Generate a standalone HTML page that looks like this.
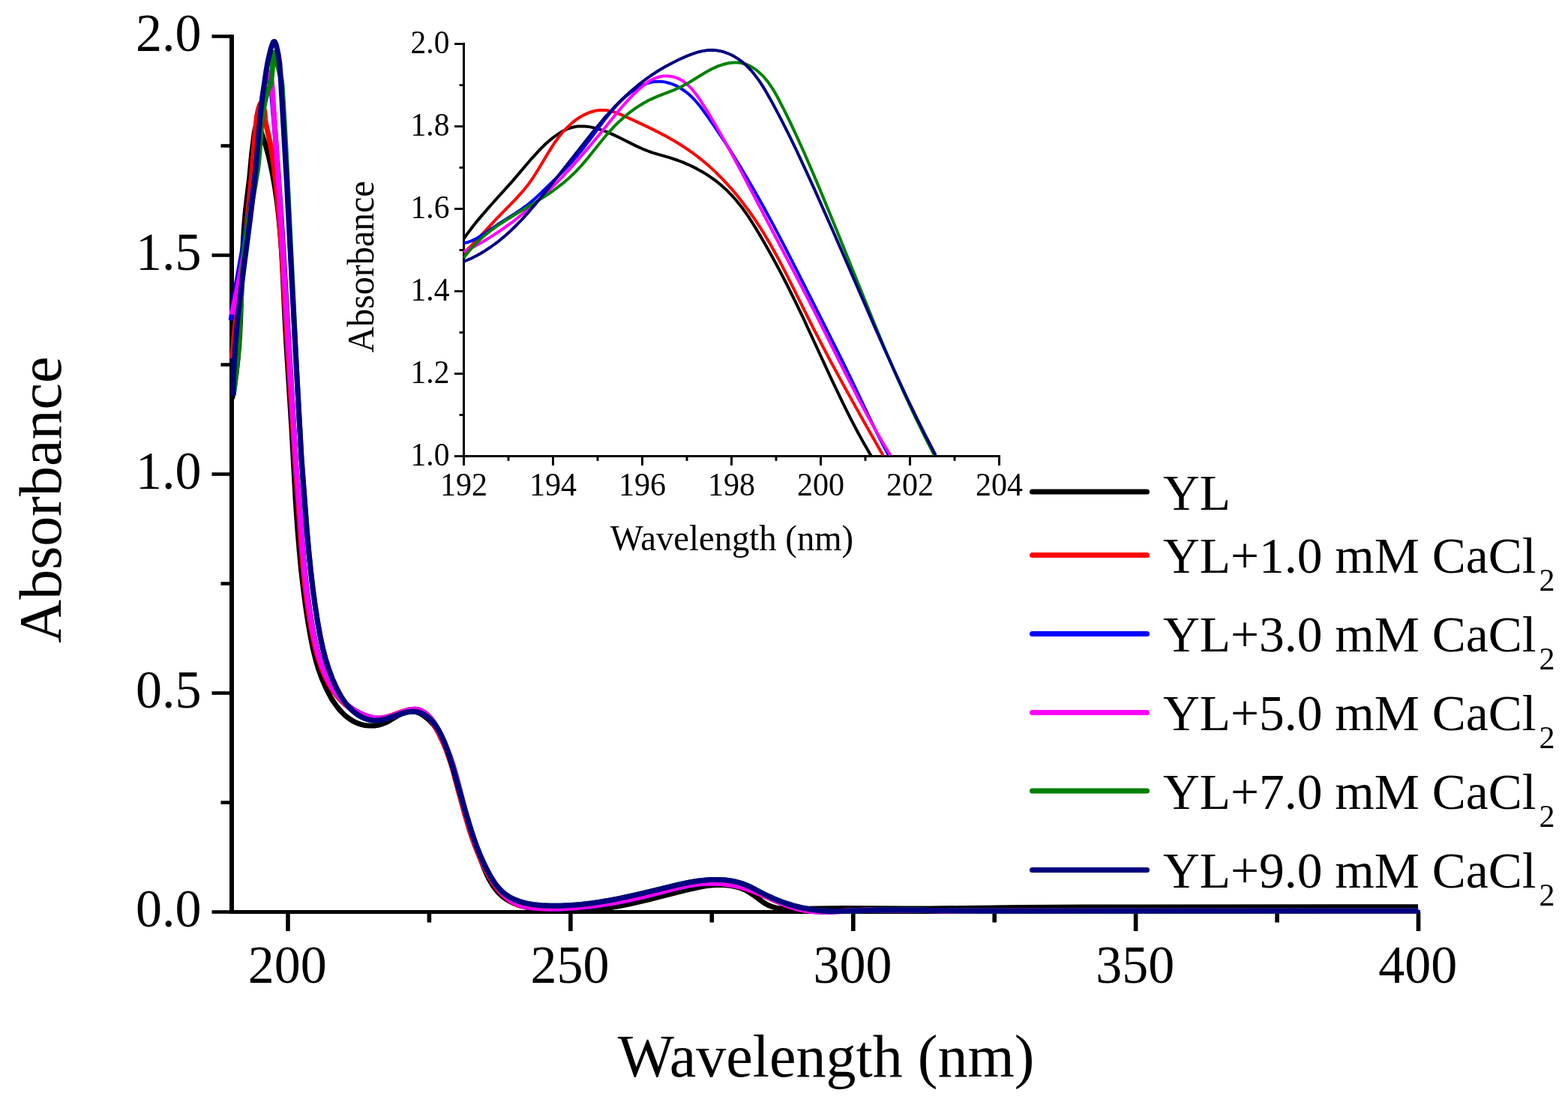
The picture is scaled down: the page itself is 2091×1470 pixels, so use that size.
<!DOCTYPE html>
<html><head><meta charset="utf-8"><title>Absorbance spectra</title>
<style>html,body{margin:0;padding:0;background:#fff;}svg{display:block;}</style></head>
<body><svg width="2091" height="1470" viewBox="0 0 2091 1470">
<rect width="2091" height="1470" fill="#fff"/>
<g stroke="#000" fill="none" stroke-linecap="butt">
<line x1="309" y1="46.2" x2="309" y2="1219" stroke-width="6"/>
<line x1="306" y1="1216.5" x2="1893.9" y2="1216.5" stroke-width="5"/>
<line x1="282.5" y1="1216.5" x2="309" y2="1216.5" stroke-width="4.6"/>
<line x1="294.5" y1="1070.5" x2="309" y2="1070.5" stroke-width="4.6"/>
<line x1="282.5" y1="924.5" x2="309" y2="924.5" stroke-width="4.6"/>
<line x1="294.5" y1="778.5" x2="309" y2="778.5" stroke-width="4.6"/>
<line x1="282.5" y1="632.5" x2="309" y2="632.5" stroke-width="4.6"/>
<line x1="294.5" y1="486.5" x2="309" y2="486.5" stroke-width="4.6"/>
<line x1="282.5" y1="340.5" x2="309" y2="340.5" stroke-width="4.6"/>
<line x1="294.5" y1="194.5" x2="309" y2="194.5" stroke-width="4.6"/>
<line x1="282.5" y1="48.5" x2="309" y2="48.5" stroke-width="4.6"/>
<line x1="384.0" y1="1216.5" x2="384.0" y2="1242" stroke-width="5.6"/>
<line x1="572.4" y1="1216.5" x2="572.4" y2="1230.5" stroke-width="5.6"/>
<line x1="760.9" y1="1216.5" x2="760.9" y2="1242" stroke-width="5.6"/>
<line x1="949.3" y1="1216.5" x2="949.3" y2="1230.5" stroke-width="5.6"/>
<line x1="1137.8" y1="1216.5" x2="1137.8" y2="1242" stroke-width="5.6"/>
<line x1="1326.2" y1="1216.5" x2="1326.2" y2="1230.5" stroke-width="5.6"/>
<line x1="1514.6" y1="1216.5" x2="1514.6" y2="1242" stroke-width="5.6"/>
<line x1="1703.1" y1="1216.5" x2="1703.1" y2="1230.5" stroke-width="5.6"/>
<line x1="1891.5" y1="1216.5" x2="1891.5" y2="1242" stroke-width="5.6"/>
</g>
<g stroke="#000" fill="none">
<line x1="618.5" y1="57.1" x2="618.5" y2="610" stroke-width="3"/>
<line x1="617" y1="608.5" x2="1334" y2="608.5" stroke-width="3"/>
<line x1="606" y1="608.5" x2="618.5" y2="608.5" stroke-width="2.8"/>
<line x1="612.5" y1="553.5" x2="618.5" y2="553.5" stroke-width="2.8"/>
<line x1="606" y1="498.5" x2="618.5" y2="498.5" stroke-width="2.8"/>
<line x1="612.5" y1="443.5" x2="618.5" y2="443.5" stroke-width="2.8"/>
<line x1="606" y1="388.5" x2="618.5" y2="388.5" stroke-width="2.8"/>
<line x1="612.5" y1="333.6" x2="618.5" y2="333.6" stroke-width="2.8"/>
<line x1="606" y1="278.6" x2="618.5" y2="278.6" stroke-width="2.8"/>
<line x1="612.5" y1="223.6" x2="618.5" y2="223.6" stroke-width="2.8"/>
<line x1="606" y1="168.6" x2="618.5" y2="168.6" stroke-width="2.8"/>
<line x1="612.5" y1="113.6" x2="618.5" y2="113.6" stroke-width="2.8"/>
<line x1="606" y1="58.6" x2="618.5" y2="58.6" stroke-width="2.8"/>
<line x1="618.5" y1="608.5" x2="618.5" y2="620.9" stroke-width="3"/>
<line x1="678.0" y1="608.5" x2="678.0" y2="614.8" stroke-width="3"/>
<line x1="737.5" y1="608.5" x2="737.5" y2="620.9" stroke-width="3"/>
<line x1="797.0" y1="608.5" x2="797.0" y2="614.8" stroke-width="3"/>
<line x1="856.5" y1="608.5" x2="856.5" y2="620.9" stroke-width="3"/>
<line x1="916.0" y1="608.5" x2="916.0" y2="614.8" stroke-width="3"/>
<line x1="975.5" y1="608.5" x2="975.5" y2="620.9" stroke-width="3"/>
<line x1="1035.0" y1="608.5" x2="1035.0" y2="614.8" stroke-width="3"/>
<line x1="1094.5" y1="608.5" x2="1094.5" y2="620.9" stroke-width="3"/>
<line x1="1154.0" y1="608.5" x2="1154.0" y2="614.8" stroke-width="3"/>
<line x1="1213.5" y1="608.5" x2="1213.5" y2="620.9" stroke-width="3"/>
<line x1="1273.0" y1="608.5" x2="1273.0" y2="614.8" stroke-width="3"/>
<line x1="1332.5" y1="608.5" x2="1332.5" y2="620.9" stroke-width="3"/>
</g>
<g fill="none" stroke-linejoin="round" stroke-linecap="butt">
<path d="M309.5 532.0L312.5 515.1L315.0 497.6L317.1 478.9L318.8 458.8L319.9 441.2L320.8 421.4L322.9 355.2L323.9 330.8L325.3 306.5L327.1 284.7L328.6 271.4L332.8 236.7L335.6 205.5L339.3 176.5L340.4 171.2L341.1 169.4L341.8 168.0L342.7 167.1L343.6 166.7L344.5 167.0L345.3 168.1L346.8 171.6L354.2 193.7L357.6 205.9L360.7 219.0L363.8 234.2L366.7 250.7L369.2 267.7L371.3 285.6L373.7 310.3L375.7 338.0L377.2 366.2L380.1 427.8L381.9 460.1L388.9 570.9L394.4 671.2L396.7 704.3L399.1 733.4L401.5 759.4L404.3 783.7L407.3 807.1L410.7 829.6L414.2 849.6L417.4 865.6L421.0 880.0L424.8 892.9L429.4 905.6L434.9 918.2L440.6 929.2L443.5 934.1L446.7 938.8L450.0 943.3L453.0 947.0L456.2 950.4L459.5 953.7L463.0 956.6L466.6 959.3L470.4 961.7L473.7 963.4L477.8 965.1L481.4 966.3L485.0 967.2L488.8 967.8L492.6 968.1L496.4 968.1L500.3 967.9L504.1 967.3L510.2 965.6L515.4 963.5L519.8 961.1L530.6 954.6L537.3 951.4L541.0 950.1L544.0 949.4L546.9 948.9L549.9 948.8L552.8 949.1L556.3 950.0L559.8 951.5L563.2 953.5L567.0 956.2L571.2 959.6L574.5 962.8L578.1 966.8L583.1 973.6L587.9 981.6L592.4 990.8L596.5 1001.3L599.1 1009.0L601.5 1016.9L611.6 1055.3L618.6 1078.8L640.0 1143.6L644.4 1155.4L648.2 1164.5L652.1 1172.6L656.1 1179.4L660.1 1185.2L664.4 1190.4L669.2 1195.1L674.0 1198.7L679.0 1201.9L685.1 1204.9L689.4 1206.6L693.8 1208.1L703.7 1210.6L714.7 1212.6L728.3 1214.2L742.6 1215.2L756.9 1215.5L771.1 1215.1L786.0 1214.1L798.5 1212.8L811.8 1211.0L824.9 1208.8L838.8 1206.0L862.5 1200.6L913.6 1187.6L933.0 1183.3L940.8 1181.9L947.8 1181.0L954.1 1180.5L960.4 1180.3L968.3 1180.7L975.4 1181.5L982.4 1183.1L988.5 1185.0L994.4 1187.5L999.2 1190.3L1004.5 1193.8L1017.3 1203.2L1021.2 1205.7L1025.2 1207.8L1030.1 1209.7L1035.3 1211.1L1041.4 1212.0L1047.7 1212.3L1055.7 1212.4L1125.4 1211.6L1208.0 1212.0L1239.6 1212.0L1362.4 1210.5L1444.3 1210.0L1891.0 1209.7" stroke="#000000" stroke-width="7"/>
<path d="M309.7 478.1L312.2 448.9L315.5 416.5L327.8 310.5L332.0 271.1L335.8 231.1L340.4 175.5L341.8 161.2L342.6 155.1L343.7 149.5L344.9 144.6L346.3 140.3L347.2 138.4L348.1 137.8L349.0 138.2L350.1 139.9L351.5 143.4L352.5 147.5L353.2 152.1L353.8 160.1L354.2 163.6L359.6 187.5L361.6 198.3L363.5 210.0L365.6 225.0L367.7 243.4L369.9 263.5L371.8 284.9L374.2 314.3L376.5 347.5L383.9 469.9L393.4 614.5L393.2 614.4L396.1 650.0L401.7 728.6L404.9 765.8L407.0 784.2L409.1 801.3L411.5 817.7L414.1 833.6L416.7 847.2L419.3 859.2L422.1 870.3L425.0 880.3L429.5 893.1L434.5 904.5L439.8 914.6L443.0 919.7L446.0 924.0L449.1 928.1L452.5 932.0L456.0 935.7L459.8 939.2L463.8 942.5L467.4 945.1L471.8 947.9L475.7 950.2L483.5 953.7L487.9 955.4L491.8 956.6L495.8 957.5L498.9 958.0L502.1 958.2L505.3 958.2L511.6 957.5L517.9 955.9L524.1 953.9L537.4 949.0L543.4 947.3L548.5 946.4L551.3 946.2L553.4 946.3L556.0 946.8L558.6 947.6L561.0 948.6L563.4 950.0L565.7 951.6L568.4 953.9L573.1 958.9L575.9 962.7L579.1 967.5L582.0 972.5L585.2 978.4L591.4 991.7L594.5 999.1L597.3 1006.6L601.3 1018.5L605.1 1031.1L618.4 1081.2L625.4 1105.1L629.3 1117.0L633.6 1128.8L638.0 1139.8L642.4 1149.9L647.7 1160.7L653.0 1170.5L658.0 1178.5L663.6 1186.1L669.2 1192.4L674.7 1197.5L680.7 1201.9L686.6 1205.2L693.0 1207.7L700.6 1209.6L709.4 1210.9L720.8 1211.8L733.5 1212.1L746.9 1211.8L761.6 1211.0L777.8 1209.6L791.7 1207.9L805.5 1205.9L820.1 1203.5L834.6 1200.7L846.8 1198.0L859.8 1195.0L900.9 1184.3L916.2 1181.0L924.7 1179.6L933.1 1178.6L940.9 1178.0L948.6 1177.9L957.9 1178.3L967.2 1179.2L976.5 1180.7L986.4 1183.0L995.4 1185.7L1004.9 1189.2L1014.4 1193.1L1040.9 1204.6L1048.8 1207.7L1056.1 1210.2L1064.2 1212.5L1072.5 1214.2L1081.6 1215.4L1090.9 1216.0L1098.8 1216.2L1107.4 1216.1L1148.7 1214.2L1163.7 1213.8L1179.3 1213.7L1202.7 1213.9L1269.5 1214.9L1324.1 1215.2L1521.8 1214.7L1779.4 1215.1L1889.5 1214.9" stroke="#FF0000" stroke-width="7"/>
<path d="M308.2 427.5L311.1 406.5L314.8 383.0L319.2 357.8L332.4 285.1L336.2 262.2L339.2 241.7L341.7 222.8L343.6 205.2L345.0 188.8L347.7 149.5L348.9 137.6L350.4 126.5L353.0 111.8L353.9 108.1L354.7 105.5L355.5 104.0L355.9 103.6L356.4 103.5L356.8 103.7L357.5 104.3L358.7 106.3L360.0 109.5L360.9 113.1L361.8 117.8L362.5 123.1L367.2 180.9L370.7 226.8L375.2 292.2L380.2 373.4L394.1 609.3L394.4 614.0L394.0 614.0L397.7 653.4L404.5 740.3L406.6 762.3L408.7 782.2L411.2 801.6L413.9 819.6L416.8 837.2L419.6 851.6L422.7 865.1L426.0 876.8L430.3 889.7L432.8 896.3L435.3 902.0L440.5 912.2L443.6 917.4L446.4 921.8L449.5 926.0L452.7 930.0L456.2 933.8L459.8 937.5L463.7 940.8L467.8 944.0L472.1 946.9L476.0 949.2L480.1 951.4L484.3 953.3L492.6 956.2L496.5 957.3L499.7 957.8L503.7 958.3L506.9 958.3L513.2 957.5L519.5 956.1L525.7 954.0L539.0 949.2L545.0 947.3L550.2 946.4L555.0 946.3L557.7 946.7L560.3 947.4L562.7 948.5L565.7 950.2L568.0 951.8L570.7 954.2L575.3 959.2L578.2 963.0L581.3 967.8L584.2 972.8L587.3 978.8L593.6 992.1L599.4 1007.0L603.5 1018.8L607.3 1031.5L620.3 1080.9L627.3 1104.8L631.2 1116.7L635.2 1127.8L639.5 1138.8L644.0 1148.9L649.1 1159.7L654.4 1169.5L659.4 1177.6L664.9 1185.2L670.4 1191.6L675.9 1196.8L681.9 1201.3L687.7 1204.7L694.0 1207.4L697.7 1208.5L701.5 1209.4L710.3 1210.8L720.8 1211.6L733.6 1212.0L747.8 1211.9L762.6 1211.1L778.8 1209.7L792.6 1208.1L807.2 1206.0L821.8 1203.5L836.3 1200.7L849.3 1197.9L862.3 1194.8L902.7 1184.4L918.7 1181.0L927.2 1179.6L934.9 1178.6L942.6 1178.0L950.4 1177.9L959.7 1178.2L969.0 1179.2L978.3 1180.7L988.2 1183.0L997.2 1185.7L1006.7 1189.1L1016.1 1193.0L1042.7 1204.5L1051.3 1207.9L1058.6 1210.4L1066.7 1212.6L1075.0 1214.3L1084.2 1215.5L1093.5 1216.1L1101.3 1216.2L1110.0 1216.1L1151.3 1214.2L1181.2 1213.7L1204.5 1213.9L1271.3 1214.9L1325.9 1215.2L1523.7 1214.7L1781.3 1215.1L1891.5 1214.9" stroke="#0000FF" stroke-width="7"/>
<path d="M309.3 419.6L316.6 385.6L323.3 350.2L329.5 314.0L335.1 277.3L339.6 243.1L343.6 209.2L346.8 176.8L351.4 124.5L352.8 112.6L354.3 105.1L356.1 99.7L357.3 97.5L358.2 96.5L358.8 96.6L359.5 97.6L360.8 101.4L361.8 106.3L362.6 112.0L363.2 119.9L369.4 211.9L375.1 300.8L389.0 528.8L394.5 613.9L394.3 613.9L397.4 650.2L404.1 740.2L406.1 762.2L408.2 782.1L410.5 800.7L413.2 818.7L416.1 836.3L418.9 850.7L422.0 864.2L425.2 876.0L429.4 888.9L432.0 895.5L434.5 901.2L439.6 911.5L442.6 916.7L445.5 921.1L449.0 926.0L452.2 930.0L455.7 933.8L459.3 937.4L463.2 940.8L467.3 944.0L471.6 946.9L475.5 949.2L479.5 951.3L483.8 953.2L492.0 956.2L496.0 957.2L499.1 957.8L503.1 958.2L506.3 958.2L512.6 957.5L518.9 956.1L525.2 954.1L538.4 949.2L544.5 947.4L550.3 946.3L553.1 946.2L555.2 946.4L557.8 946.8L560.3 947.6L562.8 948.7L565.1 950.1L567.4 951.8L570.2 954.1L574.8 959.2L577.6 963.0L580.7 967.7L583.7 972.8L586.8 978.7L593.1 992.0L596.1 999.5L598.9 1006.9L602.9 1018.8L606.7 1031.4L619.8 1080.8L626.8 1104.7L630.7 1116.6L634.7 1127.7L639.0 1138.7L643.4 1148.9L648.6 1159.6L653.9 1169.4L658.9 1177.6L664.4 1185.2L669.9 1191.6L675.3 1196.8L681.3 1201.3L687.1 1204.7L693.4 1207.3L697.1 1208.5L701.0 1209.4L709.7 1210.8L719.4 1211.6L732.3 1212.0L746.5 1211.9L761.2 1211.1L777.5 1209.7L791.3 1208.2L805.9 1206.1L820.5 1203.7L835.0 1200.9L848.0 1198.1L861.0 1195.0L902.1 1184.4L918.2 1181.0L926.6 1179.6L935.1 1178.5L942.8 1178.0L950.6 1177.9L959.9 1178.3L969.2 1179.3L978.5 1180.8L988.4 1183.2L997.4 1185.9L1006.2 1189.1L1015.6 1193.0L1042.1 1204.5L1050.8 1207.9L1058.1 1210.3L1066.2 1212.6L1074.5 1214.3L1083.6 1215.5L1092.9 1216.1L1100.8 1216.2L1109.5 1216.1L1150.8 1214.2L1180.6 1213.7L1204.0 1213.9L1270.8 1214.9L1325.4 1215.2L1523.2 1214.7L1780.8 1215.1L1891.0 1214.9" stroke="#FF00FF" stroke-width="7"/>
<path d="M311.1 527.1L312.8 515.0L314.4 502.4L315.8 488.7L317.1 474.5L319.0 445.9L321.9 389.6L323.2 366.6L325.1 342.6L327.4 321.3L329.2 307.6L331.2 294.5L340.2 246.2L343.6 225.5L345.6 207.1L348.7 166.1L349.7 156.9L350.9 148.3L352.9 137.2L355.3 127.3L357.3 120.7L360.1 114.8L361.1 110.7L361.9 105.5L362.6 99.6L364.5 74.1L365.2 70.8L365.6 70.4L366.0 70.9L367.0 74.0L374.1 101.2L375.4 108.0L376.2 115.9L379.4 168.8L382.1 219.4L395.1 485.8L398.6 552.3L401.9 610.5L401.8 611.1L409.4 709.0L411.9 737.1L414.5 762.7L417.4 786.8L420.4 809.1L423.7 830.5L427.2 849.5L430.4 864.6L434.1 878.9L438.3 892.3L443.0 905.0L448.2 916.8L451.2 922.6L454.0 927.5L456.9 932.3L459.6 936.2L462.5 939.9L465.5 943.5L468.8 946.7L472.1 949.8L475.7 952.5L478.9 954.6L484.8 957.7L488.3 959.0L491.2 959.8L494.8 960.6L497.8 961.0L500.8 961.2L503.9 961.1L509.2 960.3L514.7 959.0L520.9 957.1L534.8 952.2L541.6 950.3L545.3 949.6L548.2 949.3L551.1 949.2L554.0 949.4L557.5 950.0L560.8 951.1L564.1 952.6L567.2 954.3L570.1 956.4L573.4 959.2L576.0 961.8L578.9 965.2L583.4 971.5L587.7 979.2L591.8 988.2L596.0 999.2L599.7 1010.4L604.9 1027.5L621.0 1083.9L627.9 1106.7L631.8 1118.6L635.9 1129.8L640.0 1140.2L644.2 1149.8L649.1 1160.0L654.1 1169.2L658.8 1176.7L663.5 1182.9L668.7 1188.5L673.9 1192.9L679.4 1196.5L686.1 1199.9L693.9 1202.8L702.0 1205.0L711.3 1206.7L721.6 1207.7L733.6 1208.3L747.2 1208.2L761.3 1207.6L775.2 1206.5L786.7 1205.2L798.9 1203.4L811.9 1201.2L825.6 1198.6L852.2 1192.7L903.3 1180.4L921.0 1176.8L930.2 1175.3L939.5 1174.1L948.0 1173.5L956.5 1173.4L965.8 1173.8L974.3 1174.9L982.8 1176.6L990.3 1178.8L995.5 1180.7L1000.5 1183.0L1020.0 1193.2L1031.4 1198.5L1044.3 1203.7L1057.5 1207.9L1069.5 1210.9L1080.8 1213.1L1092.3 1214.6L1103.8 1215.4L1113.2 1215.6L1124.2 1215.6L1167.5 1214.1L1195.6 1213.8L1219.8 1213.9L1286.6 1214.9L1341.2 1215.2L1523.8 1214.9L1778.7 1215.1L1891.0 1214.9" stroke="#008000" stroke-width="7"/>
<path d="M311.0 527.5L311.4 505.3L312.4 482.7L313.9 459.0L316.2 433.3L318.6 410.7L321.5 385.6L333.5 292.9L338.1 254.1L341.4 221.6L346.4 161.6L349.0 137.2L350.8 123.4L354.8 95.7L356.5 85.7L358.4 76.5L361.3 64.6L363.5 58.0L364.4 56.2L365.3 55.4L366.1 55.4L366.9 56.5L368.0 58.8L368.9 62.1L371.1 72.8L372.8 84.4L373.8 96.3L382.4 244.3L394.2 470.3L402.0 610.6L408.9 703.0L411.4 731.9L414.1 758.4L416.8 782.4L419.9 805.6L423.3 827.8L426.8 847.6L430.1 863.4L433.8 877.7L438.2 891.9L442.9 904.6L448.1 916.4L451.0 922.2L453.7 927.1L456.7 931.9L459.4 935.9L462.7 940.2L465.8 943.7L469.0 947.0L472.4 950.0L476.0 952.7L479.2 954.8L485.2 957.8L488.7 959.1L491.5 959.9L495.2 960.7L498.2 961.0L501.2 961.2L504.2 961.0L509.6 960.3L515.0 958.9L520.5 957.2L534.4 952.4L541.2 950.4L544.9 949.7L547.9 949.3L550.8 949.2L553.6 949.3L557.1 949.9L560.5 951.0L563.8 952.4L566.9 954.1L569.9 956.2L573.2 959.0L576.3 962.1L579.2 965.5L583.6 971.9L587.8 979.6L591.9 988.6L595.8 998.8L599.6 1010.0L604.8 1027.2L621.1 1084.3L628.0 1107.1L632.0 1119.0L636.0 1130.2L640.2 1140.6L644.4 1150.2L649.7 1161.1L654.4 1169.6L659.1 1177.0L663.8 1183.3L669.1 1188.8L674.2 1193.1L679.8 1196.8L686.5 1200.1L694.3 1203.0L702.5 1205.1L711.8 1206.7L722.1 1207.8L734.1 1208.3L747.7 1208.2L761.8 1207.5L775.7 1206.4L787.2 1205.1L799.4 1203.3L811.6 1201.3L825.3 1198.6L851.9 1192.8L903.8 1180.3L920.7 1176.8L930.0 1175.3L939.2 1174.2L947.7 1173.5L956.2 1173.4L965.5 1173.8L974.1 1174.8L982.5 1176.5L990.1 1178.7L995.2 1180.7L1000.3 1182.9L1019.8 1193.1L1031.9 1198.7L1044.8 1203.8L1058.1 1208.1L1070.0 1211.0L1081.3 1213.1L1092.8 1214.6L1104.4 1215.4L1113.8 1215.6L1124.8 1215.6L1167.3 1214.1L1195.5 1213.8L1219.6 1213.9L1287.3 1214.9L1341.8 1215.2L1523.7 1214.9L1778.6 1215.1L1891.0 1214.9" stroke="#000080" stroke-width="7"/>
</g>
<g fill="none" stroke-linejoin="round" stroke-linecap="butt">
<path d="M618.6 318.4L624.0 310.7L629.7 303.2L636.1 295.1L643.3 286.6L654.9 273.2L683.6 241.4L709.2 211.3L719.9 199.6L725.2 194.3L730.7 189.2L736.5 184.4L741.8 180.5L747.3 176.8L752.2 174.1L757.3 171.8L761.6 170.3L766.0 169.3L770.4 168.6L774.9 168.4L779.4 168.5L784.0 168.9L789.5 169.9L795.0 171.2L800.5 172.8L808.7 175.7L818.4 179.9L826.9 184.0L847.6 194.4L859.4 199.7L865.4 202.0L870.7 203.8L893.4 210.4L904.1 214.0L911.1 216.7L917.2 219.3L923.9 222.4L929.7 225.4L936.2 229.0L941.8 232.4L952.5 239.7L958.3 244.2L963.3 248.4L968.1 252.7L972.7 257.3L977.2 262.0L981.5 266.9L990.2 277.8L998.9 290.2L1008.5 305.4L1018.5 322.4L1029.1 341.2L1039.3 360.1L1049.6 380.0L1059.9 400.8L1070.4 422.6L1108.4 505.0L1125.0 539.7L1134.6 558.9L1143.7 576.2L1152.7 592.6L1161.6 607.9" stroke="#000000" stroke-width="4"/>
<path d="M618.7 337.1L625.9 330.3L634.2 321.8L661.6 292.3L687.9 265.3L697.8 254.3L704.6 245.9L711.3 236.3L717.6 226.3L734.4 198.4L739.2 191.0L744.4 183.8L750.6 176.1L756.7 169.6L763.2 163.6L769.6 158.7L774.7 155.5L779.1 153.1L784.6 150.6L789.3 149.0L794.0 147.8L798.8 147.1L803.6 146.9L808.4 147.1L812.2 147.7L815.9 148.6L820.6 150.0L825.1 151.7L843.2 159.7L863.9 169.4L875.5 175.1L886.1 180.6L896.5 186.4L905.8 192.0L914.9 197.9L923.0 203.5L930.9 209.4L938.5 215.5L946.7 222.6L954.6 229.9L962.2 237.5L969.6 245.4L977.5 254.2L985.0 263.3L992.3 272.7L999.3 282.2L1008.3 295.2L1016.9 308.5L1025.1 322.1L1033.8 337.5L1041.3 351.4L1049.4 367.2L1084.6 437.9L1105.6 478.1L1120.6 505.9L1137.3 536.1L1155.6 568.8L1177.6 607.4" stroke="#FF0000" stroke-width="4"/>
<path d="M618.8 324.3L624.0 323.1L629.8 320.9L635.3 318.2L640.7 315.1L664.1 299.3L686.3 285.2L695.0 279.4L704.3 272.6L713.0 265.2L720.6 258.1L749.0 230.4L759.9 219.1L768.8 208.8L778.1 197.4L787.0 185.7L805.7 160.6L811.5 153.2L816.9 146.8L823.1 139.7L829.8 133.0L836.1 127.3L842.9 122.0L850.0 117.3L853.7 115.2L857.5 113.3L861.4 111.8L865.3 110.5L869.3 109.5L872.3 109.0L876.4 108.7L879.5 108.7L883.6 108.9L887.6 109.6L894.6 111.5L898.5 113.0L902.3 114.7L906.9 117.3L911.4 120.2L915.7 123.3L919.7 126.8L923.5 130.4L927.8 135.0L931.9 139.8L936.4 145.6L944.4 156.7L953.4 169.6L970.2 194.9L986.8 221.6L1003.8 250.4L1017.7 275.1L1031.7 300.9L1046.8 329.7L1064.0 363.3L1100.8 436.3L1121.8 478.5L1137.0 509.6L1159.0 556.0L1168.6 575.8L1177.1 592.6L1185.0 607.3" stroke="#0000FF" stroke-width="4"/>
<path d="M618.7 335.7L631.2 329.4L644.3 322.2L657.0 314.4L670.3 305.5L683.3 296.2L695.8 286.3L708.9 275.3L721.6 263.9L731.6 254.4L741.5 244.6L751.9 233.8L762.1 222.8L774.2 209.2L787.4 193.8L800.3 178.3L821.6 151.9L831.9 139.8L838.4 132.7L845.1 125.7L852.3 118.9L858.1 113.9L864.2 109.3L869.8 106.0L875.7 103.5L880.9 102.1L884.2 101.6L887.4 101.4L890.7 101.4L893.8 101.7L896.8 102.2L899.8 103.0L905.3 105.1L907.9 106.4L911.3 108.5L916.8 112.8L922.6 118.7L928.7 126.2L934.9 135.2L943.2 148.4L953.9 166.3L965.1 185.9L975.9 205.5L987.9 227.9L1067.2 378.7L1086.2 415.9L1126.7 496.9L1145.2 532.8L1156.3 553.5L1166.6 572.1L1176.8 589.8L1187.3 607.3" stroke="#FF00FF" stroke-width="4"/>
<path d="M618.7 343.8L622.2 338.9L626.0 334.3L633.9 325.6L638.0 321.5L643.2 316.8L648.5 312.3L654.0 308.0L663.4 301.2L675.0 293.5L685.9 286.7L714.1 269.8L729.0 260.3L736.8 255.0L744.3 249.4L750.8 244.4L757.0 239.1L766.4 230.3L776.0 220.1L784.3 210.3L805.6 183.7L811.8 176.6L818.1 169.7L825.6 162.2L833.4 155.2L840.6 149.3L848.1 143.9L857.9 137.7L862.9 134.9L868.2 132.3L877.8 128.2L898.6 120.1L909.3 115.3L918.6 110.2L935.6 99.7L942.7 95.5L950.1 91.6L957.7 88.2L963.3 86.3L969.0 84.7L974.7 83.8L979.2 83.4L983.7 83.4L988.2 84.0L992.5 85.0L996.8 86.5L999.9 87.9L1003.9 90.2L1007.8 92.8L1011.4 95.7L1014.9 98.9L1018.2 102.2L1021.2 105.7L1024.9 110.3L1030.8 119.1L1036.8 129.5L1045.0 145.4L1054.4 164.5L1063.3 183.6L1072.4 203.8L1082.6 227.3L1094.0 254.1L1115.8 307.2L1165.8 431.2L1178.8 462.6L1191.2 491.6L1204.9 522.7L1218.7 552.4L1232.5 580.9L1245.9 607.1" stroke="#008000" stroke-width="4"/>
<path d="M618.3 349.0L627.3 345.2L637.1 340.2L645.4 335.4L654.4 329.5L663.1 323.2L671.4 316.4L680.3 308.5L688.8 300.2L695.5 293.3L702.7 285.4L718.3 267.1L742.3 237.2L789.0 178.1L798.9 166.0L807.4 155.9L818.7 143.5L829.6 132.4L840.9 122.0L852.8 112.1L861.3 105.6L870.0 99.5L878.1 94.3L887.4 88.8L897.0 83.7L906.8 78.8L916.9 74.4L925.0 71.3L931.9 69.2L937.7 67.9L943.5 67.1L949.4 66.8L954.0 67.0L959.7 67.9L965.4 69.3L970.9 71.3L975.2 73.3L980.4 76.1L984.4 78.6L989.2 82.1L993.7 85.9L997.9 90.0L1002.0 94.3L1005.8 98.9L1013.0 108.6L1020.8 120.9L1029.3 135.9L1041.2 158.4L1051.5 178.7L1062.4 201.2L1073.9 225.9L1087.3 255.1L1111.5 309.8L1167.5 438.5L1181.6 470.2L1195.0 499.6L1208.6 528.8L1221.6 555.8L1234.4 581.5L1247.7 607.2" stroke="#000080" stroke-width="4"/>
</g>
<line x1="1376.5" y1="655.9" x2="1529.5" y2="655.9" stroke="#000000" stroke-width="7" stroke-linecap="round"/>
<line x1="1376.5" y1="740.6" x2="1529.5" y2="740.6" stroke="#FF0000" stroke-width="7" stroke-linecap="round"/>
<line x1="1376.5" y1="845.5" x2="1529.5" y2="845.5" stroke="#0000FF" stroke-width="7" stroke-linecap="round"/>
<line x1="1376.5" y1="950.6" x2="1529.5" y2="950.6" stroke="#FF00FF" stroke-width="7" stroke-linecap="round"/>
<line x1="1376.5" y1="1055.0" x2="1529.5" y2="1055.0" stroke="#008000" stroke-width="7" stroke-linecap="round"/>
<line x1="1376.5" y1="1160.4" x2="1529.5" y2="1160.4" stroke="#000080" stroke-width="7" stroke-linecap="round"/>
<g font-family="Liberation Serif, Times New Roman, serif" fill="#000"><text x="268.5" y="1236.0" font-size="70" text-anchor="end" transform="translate(0 1236.0) scale(1 1.02) translate(0 -1236.0)">0.0</text>
<text x="268.5" y="944.0" font-size="70" text-anchor="end" transform="translate(0 944.0) scale(1 1.02) translate(0 -944.0)">0.5</text>
<text x="268.5" y="652.0" font-size="70" text-anchor="end" transform="translate(0 652.0) scale(1 1.02) translate(0 -652.0)">1.0</text>
<text x="268.5" y="360.0" font-size="70" text-anchor="end" transform="translate(0 360.0) scale(1 1.02) translate(0 -360.0)">1.5</text>
<text x="268.5" y="68.0" font-size="70" text-anchor="end" transform="translate(0 68.0) scale(1 1.02) translate(0 -68.0)">2.0</text>
<text x="383.2" y="1310.8" font-size="70" text-anchor="middle" transform="translate(0 1310.8) scale(1 1.025) translate(0 -1310.8)">200</text>
<text x="760.1" y="1310.8" font-size="70" text-anchor="middle" transform="translate(0 1310.8) scale(1 1.025) translate(0 -1310.8)">250</text>
<text x="1137.0" y="1310.8" font-size="70" text-anchor="middle" transform="translate(0 1310.8) scale(1 1.025) translate(0 -1310.8)">300</text>
<text x="1513.8" y="1310.8" font-size="70" text-anchor="middle" transform="translate(0 1310.8) scale(1 1.025) translate(0 -1310.8)">350</text>
<text x="1890.7" y="1310.8" font-size="70" text-anchor="middle" transform="translate(0 1310.8) scale(1 1.025) translate(0 -1310.8)">400</text>
<text x="1101.5" y="1435.6" font-size="80" text-anchor="middle">Wavelength (nm)</text>
<text transform="translate(80.6 666.6) rotate(-90)" x="0" y="0" font-size="80" text-anchor="middle">Absorbance</text>
<text x="599.5" y="621.0" font-size="41.5" text-anchor="end" transform="translate(0 621.0) scale(1 1.05) translate(0 -621.0)">1.0</text>
<text x="599.5" y="511.0" font-size="41.5" text-anchor="end" transform="translate(0 511.0) scale(1 1.05) translate(0 -511.0)">1.2</text>
<text x="599.5" y="401.0" font-size="41.5" text-anchor="end" transform="translate(0 401.0) scale(1 1.05) translate(0 -401.0)">1.4</text>
<text x="599.5" y="291.1" font-size="41.5" text-anchor="end" transform="translate(0 291.1) scale(1 1.05) translate(0 -291.1)">1.6</text>
<text x="599.5" y="181.1" font-size="41.5" text-anchor="end" transform="translate(0 181.1) scale(1 1.05) translate(0 -181.1)">1.8</text>
<text x="599.5" y="71.1" font-size="41.5" text-anchor="end" transform="translate(0 71.1) scale(1 1.05) translate(0 -71.1)">2.0</text>
<text x="618.5" y="661" font-size="42" text-anchor="middle" transform="translate(0 661) scale(1 1.04) translate(0 -661)">192</text>
<text x="737.5" y="661" font-size="42" text-anchor="middle" transform="translate(0 661) scale(1 1.04) translate(0 -661)">194</text>
<text x="856.5" y="661" font-size="42" text-anchor="middle" transform="translate(0 661) scale(1 1.04) translate(0 -661)">196</text>
<text x="975.5" y="661" font-size="42" text-anchor="middle" transform="translate(0 661) scale(1 1.04) translate(0 -661)">198</text>
<text x="1094.5" y="661" font-size="42" text-anchor="middle" transform="translate(0 661) scale(1 1.04) translate(0 -661)">200</text>
<text x="1213.5" y="661" font-size="42" text-anchor="middle" transform="translate(0 661) scale(1 1.04) translate(0 -661)">202</text>
<text x="1332.5" y="661" font-size="42" text-anchor="middle" transform="translate(0 661) scale(1 1.04) translate(0 -661)">204</text>
<text x="976" y="734.3" font-size="46.7" text-anchor="middle" transform="translate(0 734.3) scale(1 1.06) translate(0 -734.3)">Wavelength (nm)</text>
<text transform="translate(498 356) rotate(-90) scale(1 1.06)" x="0" y="0" font-size="48" text-anchor="middle">Absorbance</text>
<text x="1551" y="679.5" font-size="67.5">YL</text>
<text x="1551" y="764.2" font-size="67.5">YL+1.0 mM CaCl<tspan font-size="42" dx="4" dy="24">2</tspan></text>
<text x="1551" y="869.1" font-size="67.5">YL+3.0 mM CaCl<tspan font-size="42" dx="4" dy="24">2</tspan></text>
<text x="1551" y="974.2" font-size="67.5">YL+5.0 mM CaCl<tspan font-size="42" dx="4" dy="24">2</tspan></text>
<text x="1551" y="1078.6" font-size="67.5">YL+7.0 mM CaCl<tspan font-size="42" dx="4" dy="24">2</tspan></text>
<text x="1551" y="1184.0" font-size="67.5">YL+9.0 mM CaCl<tspan font-size="42" dx="4" dy="24">2</tspan></text></g>
</svg></body></html>
